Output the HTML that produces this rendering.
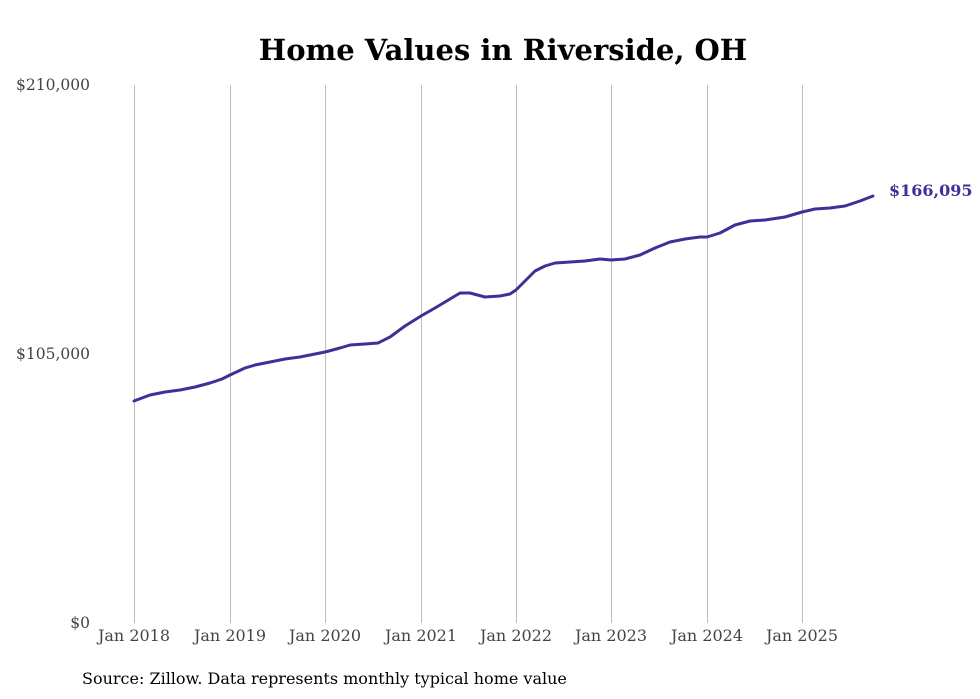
<!DOCTYPE html>
<html><head><meta charset="utf-8"><style>
html,body{margin:0;padding:0;background:#fff;}
svg{display:block;}
</style></head><body>
<svg width="980" height="699" viewBox="0 0 980 699" xmlns="http://www.w3.org/2000/svg" font-family="'DejaVu Serif','Liberation Serif',serif">
<rect width="980" height="699" fill="#fff"/>
<text x="503" y="60" text-anchor="middle" font-size="29" font-weight="bold" fill="#000">Home Values in Riverside, OH</text>
<g stroke="#bdbdbd" stroke-width="1">
<line x1="134.5" y1="85" x2="134.5" y2="623"/>
<line x1="230.5" y1="85" x2="230.5" y2="623"/>
<line x1="325.5" y1="85" x2="325.5" y2="623"/>
<line x1="421.5" y1="85" x2="421.5" y2="623"/>
<line x1="516.5" y1="85" x2="516.5" y2="623"/>
<line x1="611.5" y1="85" x2="611.5" y2="623"/>
<line x1="707.5" y1="85" x2="707.5" y2="623"/>
<line x1="802.5" y1="85" x2="802.5" y2="623"/>
</g>
<g font-size="15.5" fill="#444" text-anchor="end">
<text x="90" y="90">$210,000</text>
<text x="90" y="359">$105,000</text>
<text x="90" y="628">$0</text>
</g>
<g font-size="16" fill="#444" text-anchor="middle">
<text x="134" y="641">Jan 2018</text>
<text x="230" y="641">Jan 2019</text>
<text x="325" y="641">Jan 2020</text>
<text x="421" y="641">Jan 2021</text>
<text x="516" y="641">Jan 2022</text>
<text x="611" y="641">Jan 2023</text>
<text x="707" y="641">Jan 2024</text>
<text x="802" y="641">Jan 2025</text>
</g>
<polyline fill="none" stroke="#3b3198" stroke-width="3" stroke-linejoin="round" stroke-linecap="round" points="134,401 150,395 165,392 180,390 195,387 210,383 222,379 230,375 245,368 255,365 270,362 285,359 300,357 315,354 325,352 340,348 350,345 365,344 378,343 390,337 405,326 421,316 435,308 450,299 460,293 470,293 485,297 500,296 510,294 516,290 525,281 535,271 545,266 555,263 570,262 585,261 600,259 611,260 625,259 640,255 655,248 670,242 685,239 700,237 707,237 720,233 735,225 750,221 765,220 785,217 802,212 815,209 830,208 845,206 860,201 873,196"/>
<text x="889" y="196" font-size="16" font-weight="bold" fill="#3b3198">$166,095</text>
<text x="82" y="684" font-size="16" fill="#000">Source: Zillow. Data represents monthly typical home value</text>
</svg>
</body></html>
